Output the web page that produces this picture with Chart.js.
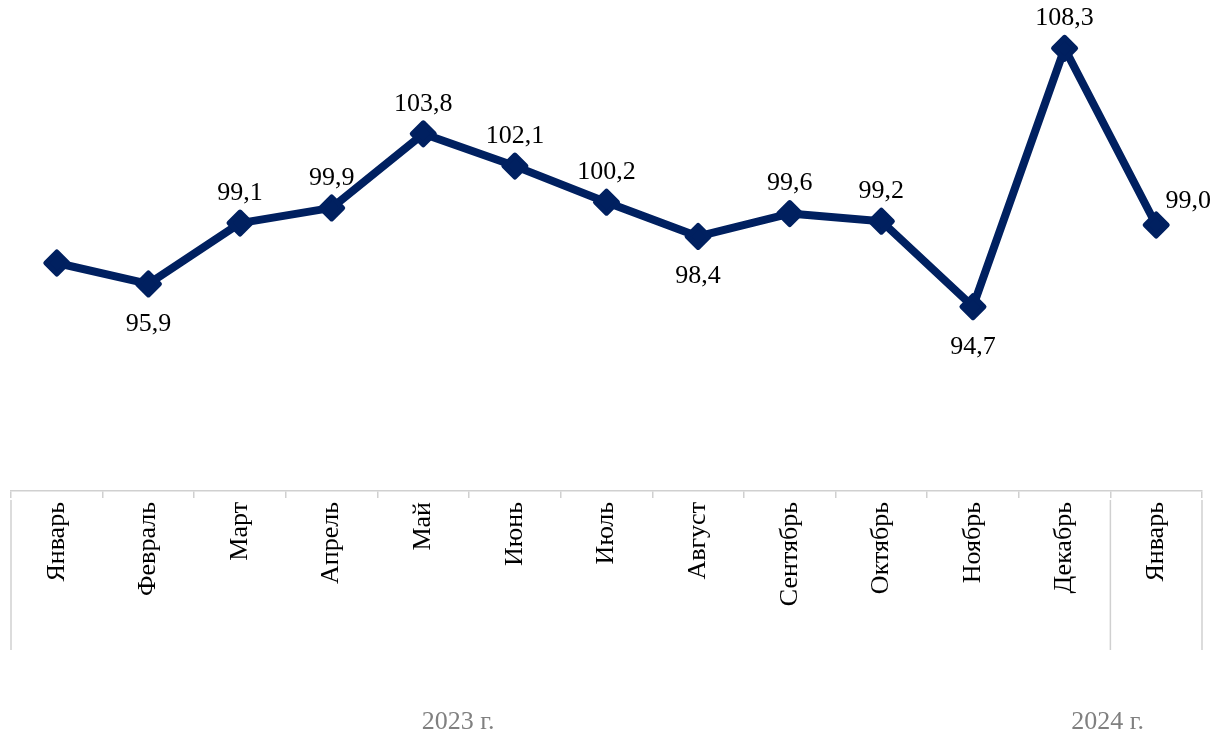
<!DOCTYPE html>
<html>
<head>
<meta charset="utf-8">
<script src="https://cdn.jsdelivr.net/npm/chart.js@4"></script>
<style>
    html, body { margin: 0; padding: 0; background: #fff; }
    #wrap { width: 1213px; height: 735px; position: relative; }
</style>
</head>
<body>
<div id="wrap"><canvas id="lineChart"></canvas></div>
<script>
const months = ['Январь','Февраль','Март','Апрель','Май','Июнь','Июль',
                'Август','Сентябрь','Октябрь','Ноябрь','Декабрь','Январь'];
const values = [97.0, 95.9, 99.1, 99.9, 103.8, 102.1, 100.2, 98.4, 99.6, 99.2, 94.7, 108.3, 99.0];
const years = ['2023 г.', '2024 г.'];
// how many months belong to each year
const yearSpan = [12, 1];

// where each data label goes (first point has none)
const labelPos = ['none','below','above','above','above','above','above',
                  'below','above','above','below','above','right'];

const navy = '#002060';
const gridGray = '#d0d0d0';
const serif = "'Liberation Serif', 'DejaVu Serif', serif";

const fmt = v => v.toFixed(1).replace('.', ',');

// rounded corners on the diamonds
const roundJoins = {
    id: 'roundJoins',
    beforeDatasetsDraw(chart) {
        chart.ctx.lineJoin = 'round';
    }
};

// data labels over the points
const pointLabels = {
    id: 'pointLabels',
    afterDatasetsDraw(chart) {
        const ctx = chart.ctx;
        const meta = chart.getDatasetMeta(0);
        ctx.save();
        ctx.font = '26px ' + serif;
        ctx.fillStyle = '#000';
        ctx.textAlign = 'center';
        ctx.textBaseline = 'middle';
        meta.data.forEach((pt, i) => {
            const pos = labelPos[i];
            if (pos === 'none') return;
            let x = pt.x, y = pt.y;
            if (pos === 'above') y -= 30;
            else if (pos === 'below') y += 40;
            else if (pos === 'right') { x += 32; y -= 24; }
            ctx.fillText(fmt(values[i]), x, y);
        });
        ctx.restore();
    }
};

// year group separators and year captions under the axis
const yearGroups = {
    id: 'yearGroups',
    afterDraw(chart) {
        const ctx = chart.ctx;
        const xs = chart.scales.x;
        const half = (xs.getPixelForValue(1) - xs.getPixelForValue(0)) / 2;
        const top = chart.chartArea.bottom + 9;
        const bottom = top + 150;
        ctx.save();
        ctx.strokeStyle = gridGray;
        ctx.lineWidth = 1.5;
        let start = 0;
        const edges = [xs.getPixelForValue(0) - half];
        yearSpan.forEach(n => {
            start += n;
            edges.push(xs.getPixelForValue(start - 1) + half);
        });
        edges.forEach(x => {
            ctx.beginPath();
            ctx.moveTo(x, top);
            ctx.lineTo(x, bottom);
            ctx.stroke();
        });
        ctx.font = '26px ' + serif;
        ctx.fillStyle = '#808080';
        ctx.textAlign = 'center';
        ctx.textBaseline = 'middle';
        // captions sit a bit left of the group centre, as in the original
        ctx.fillText(years[0], xs.getPixelForValue(4.38), chart.chartArea.bottom + 231);
        ctx.fillText(years[1], xs.getPixelForValue(11.47), chart.chartArea.bottom + 231);
        ctx.restore();
    }
};

new Chart(document.getElementById('lineChart'), {
    type: 'line',
    data: {
        labels: months,
        datasets: [{
            data: values,
            borderColor: navy,
            backgroundColor: navy,
            borderWidth: 8,
            borderJoinStyle: 'round',
            borderCapStyle: 'round',
            tension: 0,
            pointStyle: 'rectRot',
            pointRadius: 11,
            pointHoverRadius: 11,
            pointBorderWidth: 5,
            pointBorderColor: navy,
            pointBackgroundColor: navy
        }]
    },
    options: {
        responsive: true,
        maintainAspectRatio: false,
        animation: false,
        layout: {
            autoPadding: false,
            padding: { top: 16, left: 11, right: 11, bottom: 0 }
        },
        plugins: {
            legend: { display: false },
            tooltip: { enabled: false }
        },
        scales: {
            x: {
                offset: true,
                afterFit(scale) {
                    scale.height = 244;
                    scale.paddingLeft = 0;
                    scale.paddingRight = 0;
                },
                grid: {
                    offset: true,
                    drawOnChartArea: false,
                    drawTicks: true,
                    tickLength: 7,
                    color: gridGray,
                    lineWidth: 1.5
                },
                border: { display: true, color: gridGray, width: 1.5 },
                ticks: {
                    autoSkip: false,
                    minRotation: 90,
                    maxRotation: 90,
                    padding: 4,
                    color: '#000',
                    font: { family: serif, size: 26 }
                }
            },
            y: {
                display: false,
                min: 85,
                max: 110
            }
        }
    },
    plugins: [roundJoins, pointLabels, yearGroups]
});
</script>
</body>
</html>
